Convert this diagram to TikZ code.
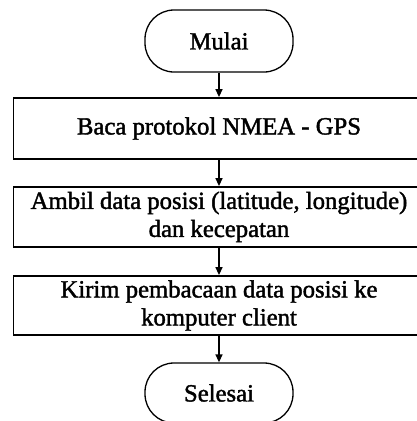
\documentclass[tikz,border=0pt]{standalone}
\usepackage{fontspec}
\setmainfont{Liberation Serif}[UprightFeatures={FakeBold=1.6}]
\usetikzlibrary{arrows.meta}
\begin{document}
\begin{tikzpicture}[x=1pt,y=-1pt,
  every node/.style={font=\fontsize{24.7}{28}\selectfont, align=center, inner sep=0pt},
  procbox/.style={draw, line width=1.8pt, minimum width=411pt},
  termbox/.style={draw, line width=1.3pt, rounded corners=29pt, minimum width=148pt},
  flow/.style={line width=1.4pt, -{Triangle[length=8pt,width=7pt]}}]
\useasboundingbox (0,0) rectangle (417,421);
\clip (0,0) rectangle (417,421);
\fill[white] (0,0) rectangle (417,421);
\node[termbox, minimum height=62pt] (start) at (219,41) {Mulai};
\node[procbox, minimum height=61pt] (b1) at (219,128.5) {Baca protokol NMEA - GPS};
\node[procbox, minimum height=60pt] (b2) at (219,217) {Ambil data posisi (latitude, longitude)\\dan kecepatan};
\node[procbox, minimum height=59pt] (b3) at (219,305.5) {Kirim pembacaan data posisi ke\\komputer client};
\node[termbox, minimum height=60pt] (end) at (219,393) {Selesai};
\draw[flow] (start) -- (b1);
\draw[flow] (b1) -- (b2);
\draw[flow] (b2) -- (b3);
\draw[flow] (b3) -- (end);
\end{tikzpicture}
\end{document}
